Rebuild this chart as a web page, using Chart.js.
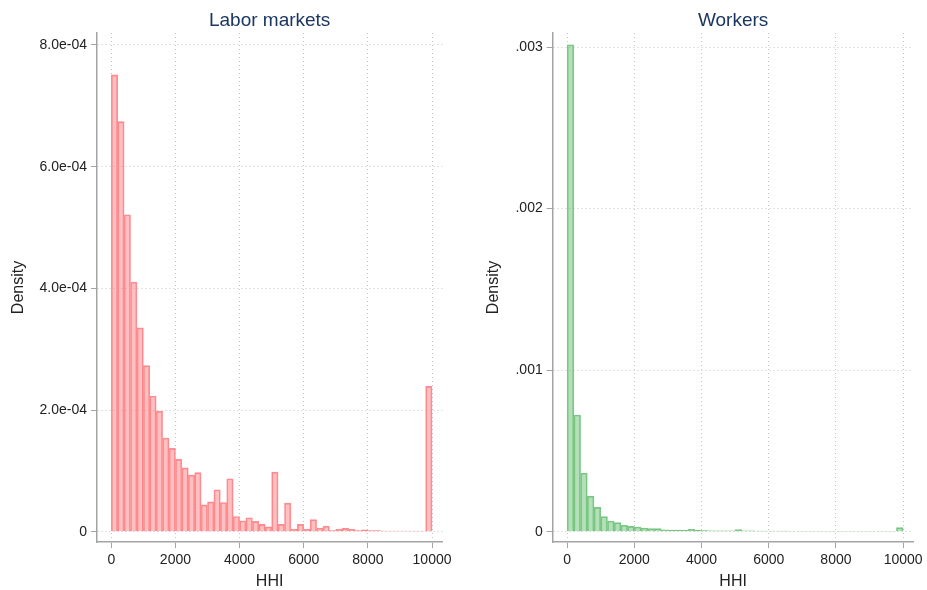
<!DOCTYPE html>
<html>
<head>
<meta charset="utf-8">
<script src="https://cdn.jsdelivr.net/npm/chart.js@4.4.1/dist/chart.umd.min.js"></script>
<style>
  body { margin: 0; background: #fff; }
  canvas { position: absolute; top: 0; }
  #marketsChart { left: 0; }
  #workersChart { left: 463px; }
</style>
</head>
<body>
<canvas id="marketsChart" width="463" height="590"></canvas>
<canvas id="workersChart" width="464" height="590"></canvas>
<script>
// histogram bins: 50 bins of width 200 over HHI 0..10000
var binWidth = 200;
var xTicks = [0, 2000, 4000, 6000, 8000, 10000];

// density of labor markets per HHI bin
var marketDensity = [
  0.000751, 0.000674, 0.000521, 0.000410, 0.000335, 0.000273, 0.000223, 0.000198, 0.000154, 0.000137,
  0.000119, 0.000105, 0.000093, 0.000097, 0.000044, 0.000049, 0.000069, 0.000048, 0.000087, 0.000025,
  0.000018, 0.000023, 0.000017, 0.000012, 0.000008, 0.000098, 0.000012, 0.000047, 0.000004, 0.000012,
  0.000004, 0.000020, 0.000006, 0.000009, 0.000002, 0.000004, 0.0000055, 0.000004, 0.000002, 0.000003,
  0.000002, 0.000002, 0.000001, 0.000001, 0.000001, 0.000001, 0.000001, 0.000001, 0.000001, 0.000239
];

// density of workers per HHI bin
var workerDensity = [
  0.003014, 0.000722, 0.000362, 0.000220, 0.000151, 0.000093, 0.000066, 0.000056, 0.000040, 0.000033,
  0.000029, 0.000023, 0.000019, 0.000019, 0.000012, 0.000010, 0.000010, 0.000009, 0.000015, 0.000008,
  0.000007, 0.000006, 0.000006, 0.000005, 0.000005, 0.000013, 0.000005, 0.000006, 0.000004, 0.000004,
  0.000004, 0.000004, 0.000004, 0.000003, 0.000003, 0.000003, 0.000003, 0.000003, 0.000003, 0.000003,
  0.000003, 0.000003, 0.000003, 0.000003, 0.000003, 0.000003, 0.000003, 0.000003, 0.000003, 0.000025
];

var marketYTicks = [0, 0.0002, 0.0004, 0.0006, 0.0008];
var marketYLabels = ['0', '2.0e-04', '4.0e-04', '6.0e-04', '8.0e-04'];
var workerYTicks = [0, 0.001, 0.002, 0.003];
var workerYLabels = ['0', '.001', '.002', '.003'];

Chart.defaults.font.family = '"Liberation Sans", Arial, sans-serif';

var axisColor = '#a4a4a4';
var gridColor = '#c4c4c4';
var textColor = '#222222';

function histChart(id, cfg) {
    var ctx = document.getElementById(id).getContext('2d');
    return new Chart(ctx, {
        type: 'bar',
        data: {
            datasets: [{
                data: cfg.values.map(function(v, i) {
                    return { x: i * binWidth + binWidth / 2, y: v };
                }),
                backgroundColor: cfg.fill,
                borderColor: cfg.line,
                borderWidth: 1,
                barPercentage: 1,
                categoryPercentage: 1
            }]
        },
        options: {
            responsive: false,
            animation: false,
            layout: { padding: { left: 0, right: cfg.padRight, top: 0, bottom: 0 } },
            plugins: {
                legend: { display: false },
                tooltip: { enabled: false },
                title: {
                    display: true,
                    text: cfg.title,
                    fullSize: false,
                    color: '#1b3660',
                    font: { size: 19, weight: 'normal' },
                    padding: { top: 9.4, bottom: 0.8 }
                }
            },
            scales: {
                x: {
                    type: 'linear',
                    min: cfg.xMin,
                    max: cfg.xMax,
                    offset: false,
                    afterBuildTicks: function(s) {
                        s.ticks = xTicks.map(function(v) { return { value: v }; });
                    },
                    afterFit: function(s) { s.height = 48; },
                    grid: { offset: false, color: gridColor, tickColor: axisColor, tickLength: 6 },
                    border: { color: axisColor, width: 1.5, dash: [1, 3] },
                    ticks: {
                        color: textColor,
                        font: { size: 14 },
                        padding: 4,
                        maxRotation: 0,
                        autoSkip: false,
                        callback: function(v) { return String(v); }
                    },
                    title: {
                        display: true,
                        text: 'HHI',
                        color: textColor,
                        font: { size: 16, lineHeight: 1 },
                        padding: { top: 0, bottom: 0.5 }
                    }
                },
                y: {
                    min: cfg.yMin,
                    max: cfg.yMax,
                    afterBuildTicks: function(s) {
                        s.ticks = cfg.yTicks.map(function(v) { return { value: v }; });
                    },
                    afterFit: function(s) { s.width = cfg.yWidth; },
                    grid: { color: gridColor, tickColor: axisColor, tickLength: 6 },
                    border: { color: axisColor, width: 1.5, dash: [1, 3] },
                    ticks: {
                        color: textColor,
                        font: { size: 14 },
                        padding: 4,
                        callback: function(v) {
                            return cfg.yLabels[cfg.yTicks.indexOf(v)];
                        }
                    },
                    title: {
                        display: true,
                        text: 'Density',
                        color: textColor,
                        font: { size: 16, lineHeight: 1 },
                        padding: { top: cfg.yTitlePad, bottom: 0 }
                    }
                }
            }
        }
    });
}

histChart('marketsChart', {
    title: 'Labor markets',
    values: marketDensity,
    fill: 'rgba(255, 115, 120, 0.45)',
    line: '#ff8f94',
    yTicks: marketYTicks,
    yLabels: marketYLabels,
    xMin: -445, xMax: 10320,
    yMin: -0.0000169, yMax: 0.0008197,
    yWidth: 97,
    yTitlePad: 10.5,
    padRight: 20.7
});

histChart('workersChart', {
    title: 'Workers',
    values: workerDensity,
    fill: 'rgba(105, 192, 115, 0.5)',
    line: '#7cc987',
    yTicks: workerYTicks,
    yLabels: workerYLabels,
    xMin: -429, xMax: 10311,
    yMin: -0.0000638, yMax: 0.0030867,
    yWidth: 89.7,
    yTitlePad: 22.5,
    padRight: 8.7
});
</script>
</body>
</html>
